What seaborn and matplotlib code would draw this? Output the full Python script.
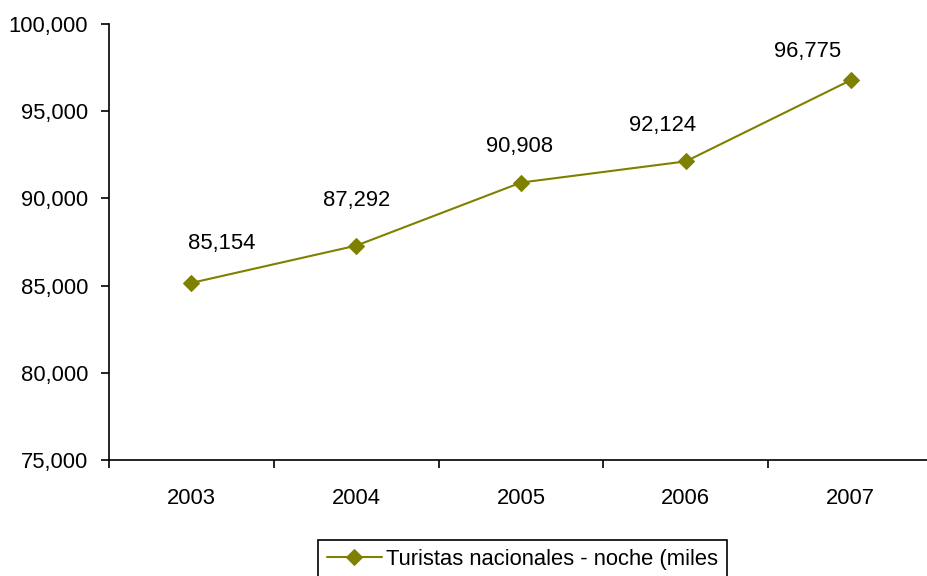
import pandas as pd
import seaborn as sns
import matplotlib.pyplot as plt
from matplotlib.ticker import FuncFormatter, FixedLocator

# Data
years = ['2003', '2004', '2005', '2006', '2007']
turistas = [85154, 87292, 90908, 92124, 96775]
series_name = 'Turistas nacionales - noche (miles'

# label offsets (pixels) as placed in the original chart
label_dx = [30, 0, -1, -23, -43]
label_dy = [39, 45, 36, 36, 29]

df = pd.DataFrame({'year': years, 'value': turistas})

sns.set_style('ticks')
plt.rcParams['font.family'] = ['Liberation Sans', 'DejaVu Sans']
plt.rcParams['text.color'] = 'black'
plt.rcParams['xtick.color'] = 'black'
plt.rcParams['ytick.color'] = 'black'
olive = '#808000'
fs = 15.8

fig = plt.figure(figsize=(9.27, 5.76), dpi=100)
ax = fig.add_axes([109 / 927, 1 - 460 / 576, 824 / 927, 436 / 576])

sns.lineplot(data=df, x='year', y='value', ax=ax, color=olive, marker='D',
             markersize=8.5, markeredgecolor=olive, linewidth=1.5,
             label=series_name)

for i, v in enumerate(turistas):
    ax.annotate(f'{v:,}', (i, v), xytext=(label_dx[i], label_dy[i]),
                textcoords='offset pixels', ha='center', va='center',
                fontsize=fs, color='black')

ax.set_ylim(75000, 100000)
ax.set_yticks(range(75000, 100001, 5000))
ax.yaxis.set_major_formatter(FuncFormatter(lambda v, p: f'{int(v):,}'))
ax.set_xlim(-0.5, len(years) - 0.5)
ax.xaxis.set_minor_locator(FixedLocator([i - 0.5 for i in range(len(years) + 1)]))
ax.tick_params(axis='x', which='major', length=0, pad=20, labelsize=fs,
               labelcolor='black')
ax.tick_params(axis='x', which='minor', length=6, width=1.2, color='black', direction='out')
ax.tick_params(axis='y', length=6, width=1.2, color='black', pad=9, labelsize=fs,
               labelcolor='black')
ax.set_xlabel('')
ax.set_ylabel('')

for s in ['top', 'right']:
    ax.spines[s].set_visible(False)
for s in ['left', 'bottom']:
    ax.spines[s].set_color('black')
    ax.spines[s].set_linewidth(1.2)

leg = ax.legend(loc='upper left', bbox_to_anchor=(318 / 927, 1 - 540 / 576),
                bbox_transform=fig.transFigure, fontsize=fs, frameon=True,
                fancybox=False, framealpha=1, edgecolor='black',
                handlelength=2.5, handletextpad=0.2, borderpad=0.4,
                borderaxespad=0)
leg.get_frame().set_linewidth(1.2)
for t in leg.get_texts():
    t.set_color('black')

fig.savefig('out.png', dpi=100)
plt.close(fig)
